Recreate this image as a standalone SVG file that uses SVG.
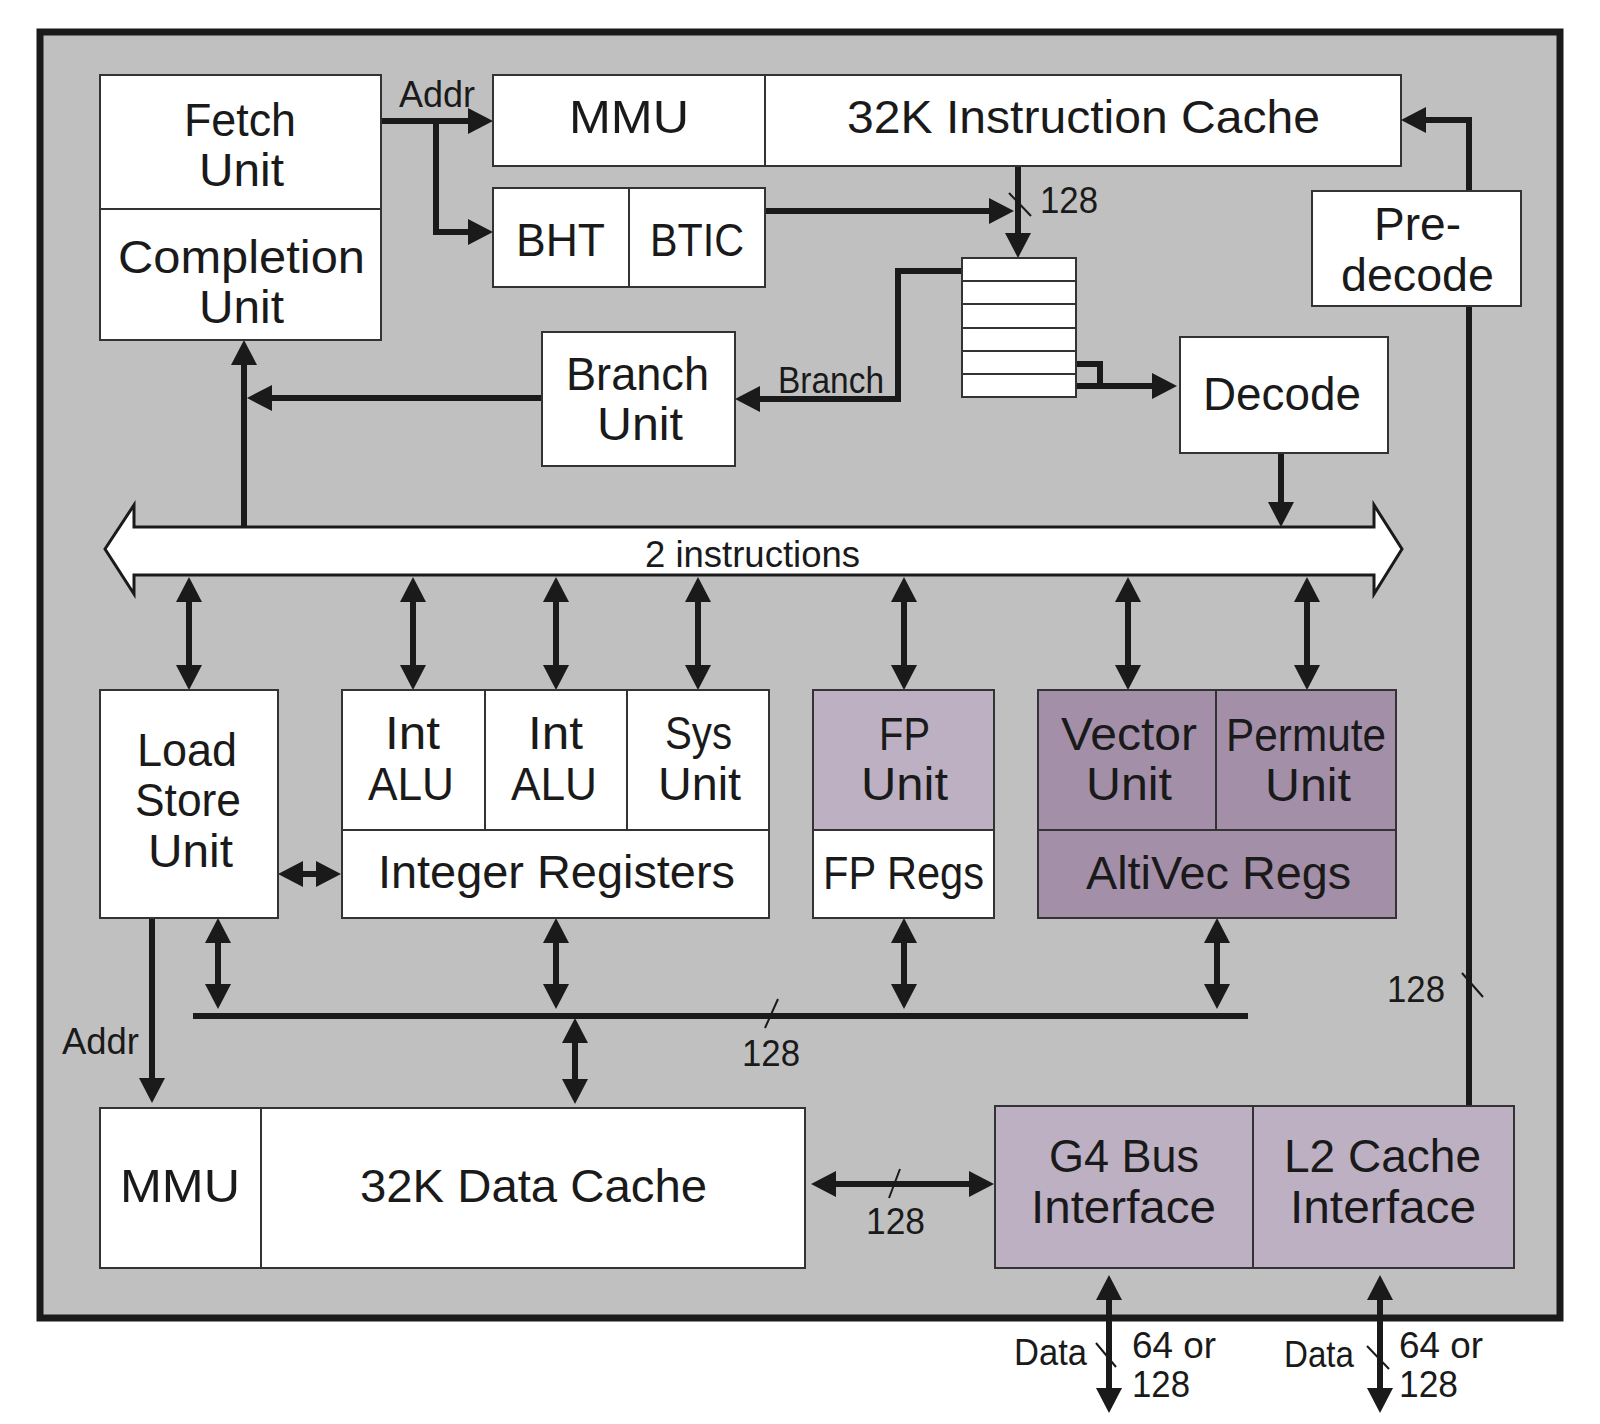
<svg xmlns="http://www.w3.org/2000/svg" width="1600" height="1424" viewBox="0 0 1600 1424">
<defs>
<style>
.box{stroke:#333;stroke-width:2}
.w{fill:#fff}
.lp{fill:#bdb0c3}
.dp{fill:#a48fa9}
.div{stroke:#333;stroke-width:2;fill:none}
.t{font-family:"Liberation Sans Narrow","Liberation Sans",Arial,sans-serif;font-size:46px;fill:#1a1a1a}
.s{font-family:"Liberation Sans Narrow","Liberation Sans",Arial,sans-serif;font-size:37px;fill:#1a1a1a}
.c{stroke:#1a1a1a;stroke-width:6;fill:none}
.c1{marker-end:url(#ah)}
.c2{marker-start:url(#ah);marker-end:url(#ah)}
.sl{stroke:#1a1a1a;stroke-width:2;fill:none}
</style>
<marker id="ah" markerUnits="userSpaceOnUse" markerWidth="26" markerHeight="26" viewBox="0 0 26 26" refX="5" refY="13" orient="auto-start-reverse">
<path d="M0,0 L25,13 L0,26 z" fill="#1a1a1a"/>
</marker>
</defs>
<rect x="0" y="0" width="1600" height="1424" fill="#fff"/>
<rect id="chip" x="40" y="32" width="1520" height="1286" fill="#c0c0c0" stroke="#1a1a1a" stroke-width="7"/>

<g id="connectors">
<path class="c c1" d="M381,121 H473"/>
<path class="c c1" d="M436,121 V232 H473"/>
<path class="c c1" d="M765,211 H994"/>
<path class="c c1" d="M1018,166 V238"/>
<path class="sl" d="M1009,193 L1031,216"/>
<path class="c c1" d="M962,271 H898 V399 H755"/>
<path class="c" stroke-width="5" d="M1076,364 H1100 V386"/>
<path class="c c1" d="M1076,386 H1157"/>
<path class="c c1" d="M1281,453 V507"/>
<path class="c c1" d="M1469,191 V120 H1421"/>
<path class="c" d="M1469,1106 V306"/>
<path class="sl" d="M1462,973 L1483,997"/>
<path class="c c1" d="M244,527 V360"/>
<path class="c c1" d="M542,398 H267"/>
<path class="c c2" d="M189,597 V670"/>
<path class="c c2" d="M413,597 V670"/>
<path class="c c2" d="M556,597 V670"/>
<path class="c c2" d="M698,597 V670"/>
<path class="c c2" d="M904,597 V670"/>
<path class="c c2" d="M1128,597 V670"/>
<path class="c c2" d="M1307,597 V670"/>
<path class="c c2" d="M298,874 H321"/>
<path class="c c2" d="M218,938 V989"/>
<path class="c c2" d="M556,938 V989"/>
<path class="c c2" d="M904,938 V989"/>
<path class="c c2" d="M1217,938 V989"/>
<path class="c" d="M193,1016 H1248"/>
<path class="sl" d="M778,999 L765,1028"/>
<path class="c c2" d="M575,1038 V1084"/>
<path class="c c1" d="M152,918 V1083"/>
<path class="c c2" d="M831,1184 H974"/>
<path class="sl" d="M900,1169 L889,1198"/>
<path class="c c2" d="M1109,1295 V1393"/>
<path class="sl" d="M1096,1343 L1116,1367"/>
<path class="c c2" d="M1380,1295 V1393"/>
<path class="sl" d="M1367,1346 L1389,1369"/>
</g>

<g id="bus">
<polygon points="105,549 134,505 134,527 1374,527 1374,505 1402,549 1374,594 1374,575 134,575 134,594" fill="#fff" stroke="#1a1a1a" stroke-width="3"/>
<text class="s" x="645" y="567" textLength="215" lengthAdjust="spacingAndGlyphs">2 instructions</text>
</g>

<g id="fetch-unit">
<rect class="box w" x="100" y="75" width="281" height="134"/>
<text class="t"><tspan x="184" y="136" textLength="112" lengthAdjust="spacingAndGlyphs">Fetch</tspan><tspan x="199" y="186" textLength="85" lengthAdjust="spacingAndGlyphs">Unit</tspan></text>
</g>
<g id="completion-unit">
<rect class="box w" x="100" y="209" width="281" height="131"/>
<text class="t"><tspan x="118" y="273" textLength="247" lengthAdjust="spacingAndGlyphs">Completion</tspan><tspan x="199" y="323" textLength="85" lengthAdjust="spacingAndGlyphs">Unit</tspan></text>
</g>
<g id="imu">
<rect class="box w" x="493" y="75" width="272" height="91"/>
<text class="t" x="569" y="133" textLength="120" lengthAdjust="spacingAndGlyphs">MMU</text>
</g>
<g id="icache">
<rect class="box w" x="765" y="75" width="636" height="91"/>
<text class="t" x="847" y="133" textLength="473" lengthAdjust="spacingAndGlyphs">32K Instruction Cache</text>
</g>
<text class="s" x="399" y="107" textLength="76" lengthAdjust="spacingAndGlyphs">Addr</text>
<text class="s" x="1040" y="213" textLength="58" lengthAdjust="spacingAndGlyphs">128</text>
<g id="bht">
<rect class="box w" x="493" y="188" width="136" height="99"/>
<text class="t" x="516" y="256" textLength="89" lengthAdjust="spacingAndGlyphs">BHT</text>
</g>
<g id="btic">
<rect class="box w" x="629" y="188" width="136" height="99"/>
<text class="t" x="650" y="256" textLength="94" lengthAdjust="spacingAndGlyphs">BTIC</text>
</g>
<g id="queue">
<rect class="box w" x="962" y="258" width="114" height="139"/>
<path class="div" d="M962,281 H1076 M962,304 H1076 M962,328 H1076 M962,351 H1076 M962,374 H1076"/>
</g>
<g id="predecode">
<rect class="box w" x="1312" y="191" width="209" height="115"/>
<text class="t"><tspan x="1374" y="240" textLength="87" lengthAdjust="spacingAndGlyphs">Pre-</tspan><tspan x="1341" y="291" textLength="153" lengthAdjust="spacingAndGlyphs">decode</tspan></text>
</g>
<g id="branch-unit">
<rect class="box w" x="542" y="332" width="193" height="134"/>
<text class="t"><tspan x="566" y="390" textLength="143" lengthAdjust="spacingAndGlyphs">Branch</tspan><tspan x="597" y="440" textLength="86" lengthAdjust="spacingAndGlyphs">Unit</tspan></text>
</g>
<text class="s" x="778" y="393" textLength="106" lengthAdjust="spacingAndGlyphs">Branch</text>
<g id="decode">
<rect class="box w" x="1180" y="337" width="208" height="116"/>
<text class="t" x="1203" y="410" textLength="158" lengthAdjust="spacingAndGlyphs">Decode</text>
</g>

<g id="load-store-unit">
<rect class="box w" x="100" y="690" width="178" height="228"/>
<text class="t"><tspan x="137" y="766" textLength="100" lengthAdjust="spacingAndGlyphs">Load</tspan><tspan x="135" y="816" textLength="106" lengthAdjust="spacingAndGlyphs">Store</tspan><tspan x="148" y="867" textLength="85" lengthAdjust="spacingAndGlyphs">Unit</tspan></text>
</g>
<g id="integer-block">
<rect class="box w" x="342" y="690" width="427" height="228"/>
<path class="div" d="M342,830 H769 M485,690 V830 M627,690 V830"/>
<text class="t"><tspan x="385" y="749" textLength="55" lengthAdjust="spacingAndGlyphs">Int</tspan><tspan x="368" y="800" textLength="86" lengthAdjust="spacingAndGlyphs">ALU</tspan></text>
<text class="t"><tspan x="528" y="749" textLength="55" lengthAdjust="spacingAndGlyphs">Int</tspan><tspan x="511" y="800" textLength="86" lengthAdjust="spacingAndGlyphs">ALU</tspan></text>
<text class="t"><tspan x="665" y="749" textLength="67" lengthAdjust="spacingAndGlyphs">Sys</tspan><tspan x="658" y="800" textLength="83" lengthAdjust="spacingAndGlyphs">Unit</tspan></text>
<text class="t" x="378" y="888" textLength="357" lengthAdjust="spacingAndGlyphs">Integer Registers</text>
</g>
<g id="fp-block">
<rect class="box lp" x="813" y="690" width="181" height="140"/>
<rect class="box w" x="813" y="830" width="181" height="88"/>
<text class="t"><tspan x="879" y="750" textLength="51" lengthAdjust="spacingAndGlyphs">FP</tspan><tspan x="861" y="800" textLength="87" lengthAdjust="spacingAndGlyphs">Unit</tspan></text>
<text class="t" x="823" y="889" textLength="161" lengthAdjust="spacingAndGlyphs">FP Regs</text>
</g>
<g id="altivec-block">
<rect class="box dp" x="1038" y="690" width="358" height="228"/>
<path class="div" d="M1038,830 H1396 M1216,690 V830"/>
<text class="t"><tspan x="1061" y="750" textLength="136" lengthAdjust="spacingAndGlyphs">Vector</tspan><tspan x="1086" y="800" textLength="86" lengthAdjust="spacingAndGlyphs">Unit</tspan></text>
<text class="t"><tspan x="1226" y="751" textLength="160" lengthAdjust="spacingAndGlyphs">Permute</tspan><tspan x="1265" y="801" textLength="86" lengthAdjust="spacingAndGlyphs">Unit</tspan></text>
<text class="t" x="1086" y="889" textLength="265" lengthAdjust="spacingAndGlyphs">AltiVec Regs</text>
</g>

<text class="s" x="1387" y="1002" textLength="58" lengthAdjust="spacingAndGlyphs">128</text>
<text class="s" x="742" y="1066" textLength="58" lengthAdjust="spacingAndGlyphs">128</text>
<text class="s" x="62" y="1054" textLength="77" lengthAdjust="spacingAndGlyphs">Addr</text>

<g id="dmmu">
<rect class="box w" x="100" y="1108" width="161" height="160"/>
<text class="t" x="120" y="1202" textLength="120" lengthAdjust="spacingAndGlyphs">MMU</text>
</g>
<g id="dcache">
<rect class="box w" x="261" y="1108" width="544" height="160"/>
<text class="t" x="360" y="1202" textLength="347" lengthAdjust="spacingAndGlyphs">32K Data Cache</text>
</g>
<text class="s" x="866" y="1234" textLength="59" lengthAdjust="spacingAndGlyphs">128</text>
<g id="g4-bus-interface">
<rect class="box lp" x="995" y="1106" width="258" height="162"/>
<text class="t"><tspan x="1049" y="1172" textLength="150" lengthAdjust="spacingAndGlyphs">G4 Bus</tspan><tspan x="1031" y="1223" textLength="185" lengthAdjust="spacingAndGlyphs">Interface</tspan></text>
</g>
<g id="l2-cache-interface">
<rect class="box lp" x="1253" y="1106" width="261" height="162"/>
<text class="t"><tspan x="1284" y="1172" textLength="197" lengthAdjust="spacingAndGlyphs">L2 Cache</tspan><tspan x="1290" y="1223" textLength="186" lengthAdjust="spacingAndGlyphs">Interface</tspan></text>
</g>

<g id="external-labels">
<text class="s" x="1014" y="1365" textLength="73" lengthAdjust="spacingAndGlyphs">Data</text>
<text class="s"><tspan x="1132" y="1358" textLength="84" lengthAdjust="spacingAndGlyphs">64 or</tspan><tspan x="1132" y="1397" textLength="58" lengthAdjust="spacingAndGlyphs">128</tspan></text>
<text class="s" x="1284" y="1367" textLength="70" lengthAdjust="spacingAndGlyphs">Data</text>
<text class="s"><tspan x="1399" y="1358" textLength="84" lengthAdjust="spacingAndGlyphs">64 or</tspan><tspan x="1399" y="1397" textLength="59" lengthAdjust="spacingAndGlyphs">128</tspan></text>
</g>
</svg>
